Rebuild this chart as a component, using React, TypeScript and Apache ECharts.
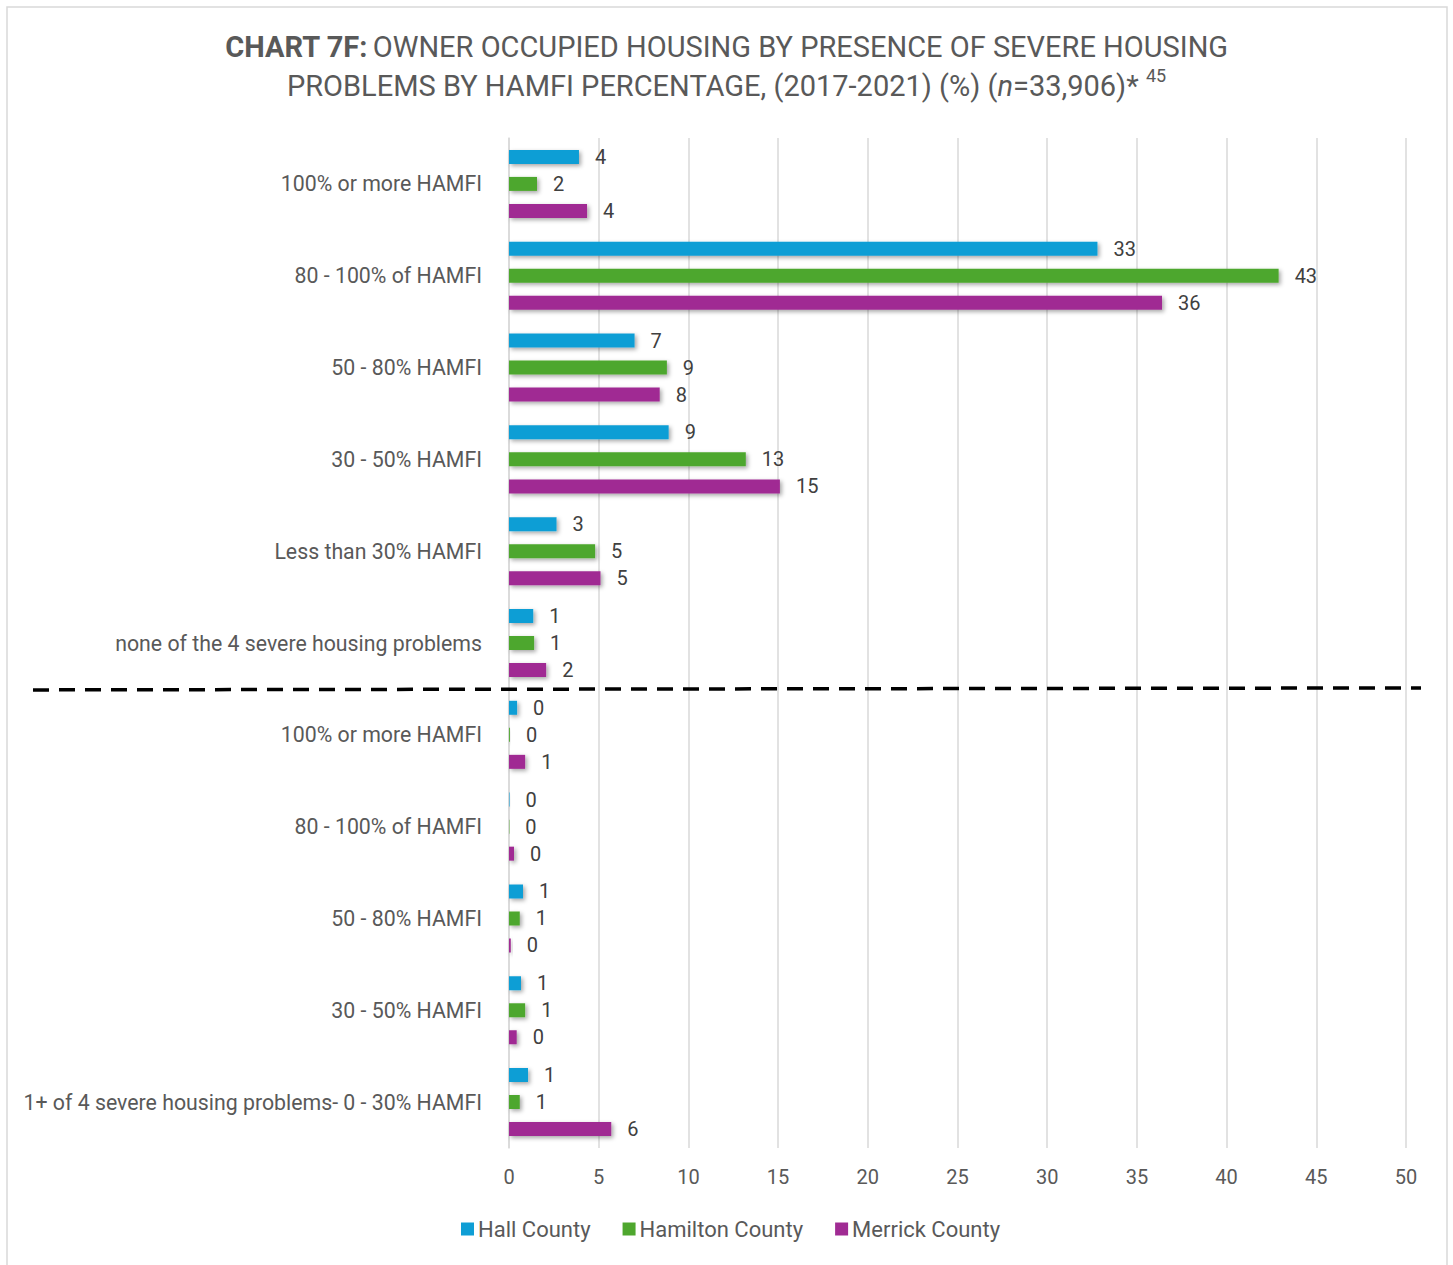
import React, { useEffect, useRef } from "react";
import * as echarts from "echarts";

const categories = [
  "100% or more HAMFI",
  "80 - 100% of HAMFI",
  "50 - 80% HAMFI",
  "30 - 50% HAMFI",
  "Less than 30% HAMFI",
  "none of the 4 severe housing problems",
  "100% or more HAMFI",
  "80 - 100% of HAMFI",
  "50 - 80% HAMFI",
  "30 - 50% HAMFI",
  "1+ of 4 severe housing problems- 0 - 30% HAMFI",
];

const hallCounty = [3.9, 32.8, 7.0, 8.9, 2.65, 1.35, 0.45, 0.03, 0.78, 0.67, 1.06];
const hamiltonCounty = [1.56, 42.9, 8.8, 13.2, 4.8, 1.4, 0.05, 0.02, 0.6, 0.9, 0.6];
const merrickCounty = [4.35, 36.4, 8.4, 15.1, 5.1, 2.07, 0.9, 0.28, 0.1, 0.43, 5.7];

const xTicks = { min: 0, max: 50, interval: 5 };

const COLORS = ["#0F9ED5", "#4EA72E", "#A02B93"];
const FONT = "Roboto, 'Noto Sans', sans-serif";

export default function App() {
  const ref = useRef<HTMLDivElement>(null);

  useEffect(() => {
    document.body.style.margin = "0";
    const chart = echarts.init(ref.current!, undefined, { renderer: "svg" });

    const mkSeries = (name: string, data: number[], color: string) => ({
      name,
      type: "bar",
      data,
      barWidth: 14,
      barGap: "93%",
      itemStyle: {
        color,
        shadowColor: "rgba(0,0,0,0.35)",
        shadowBlur: 4,
        shadowOffsetX: 2,
        shadowOffsetY: 2,
      },
      label: {
        show: true,
        position: "right",
        distance: 16,
        color: "#404040",
        fontSize: 20,
        fontFamily: FONT,
        formatter: (p: any) => String(Math.round(p.value)),
      },
    });

    const tStyle = { fontSize: 29, color: "#595959", fontFamily: FONT, lineHeight: 39, fontWeight: "normal" };

    chart.setOption({
      animation: false,
      title: {
        left: "center",
        top: 22,
        text:
          "{b|CHART 7F:} {r|OWNER OCCUPIED HOUSING BY PRESENCE OF SEVERE HOUSING}\n{r|PROBLEMS BY HAMFI PERCENTAGE, (2017-2021) (%) (}{i|n}{r|=33,906)* }{sup|45}",
        textStyle: {
          fontWeight: "normal",
          rich: {
            b: { ...tStyle, fontWeight: "bold" },
            r: tStyle,
            i: { ...tStyle, fontStyle: "italic" },
            sup: { ...tStyle, fontSize: 18, verticalAlign: "top", padding: [0, 0, 14, 0] },
          },
        },
      },
      legend: {
        bottom: 20,
        left: 456,
        itemWidth: 13,
        itemHeight: 13,
        itemGap: 32,
        icon: "rect",
        textStyle: { fontSize: 22, color: "#595959", fontFamily: FONT, padding: [0, 0, 0, -1] },
        data: ["Hall County", "Hamilton County", "Merrick County"],
      },
      grid: { left: 509, right: 47, top: 138, bottom: 117, containLabel: false },
      xAxis: {
        type: "value",
        min: xTicks.min,
        max: xTicks.max,
        interval: xTicks.interval,
        axisLine: { show: false },
        axisTick: { show: false },
        axisLabel: { fontSize: 20, color: "#595959", fontFamily: FONT, margin: 19 },
        splitLine: { lineStyle: { color: "#D9D9D9", width: 1.5 } },
      },
      yAxis: {
        type: "category",
        inverse: true,
        data: categories,
        axisLine: { show: true, lineStyle: { color: "#D9D9D9", width: 1.5 } },
        axisTick: { show: false },
        axisLabel: { fontSize: 21.3, color: "#595959", fontFamily: FONT, margin: 27 },
      },
      series: [
        mkSeries("Hall County", hallCounty, COLORS[0]),
        mkSeries("Hamilton County", hamiltonCounty, COLORS[1]),
        mkSeries("Merrick County", merrickCounty, COLORS[2]),
      ],
    });

    const y5 = chart.convertToPixel({ yAxisIndex: 0 }, 5) as number;
    const y6 = chart.convertToPixel({ yAxisIndex: 0 }, 6) as number;
    const yDash = (y5 + y6) / 2;

    chart.setOption({
      graphic: [
        {
          type: "rect",
          shape: { x: 7, y: 7, width: 1440, height: 1275 },
          style: { fill: "none", stroke: "#D9D9D9", lineWidth: 1.5 },
          silent: true,
        },
        {
          type: "line",
          shape: { x1: 33, y1: yDash + 1, x2: 1421, y2: yDash - 1 },
          style: { stroke: "#000000", lineWidth: 3.5, lineDash: [16, 10] },
          silent: true,
          z: 100,
        },
      ],
    });

    return () => chart.dispose();
  }, []);

  return (
    <div
      ref={ref}
      style={{ position: "absolute", left: 0, top: 0, width: 1453, height: 1265, background: "#fff" }}
    />
  );
}
